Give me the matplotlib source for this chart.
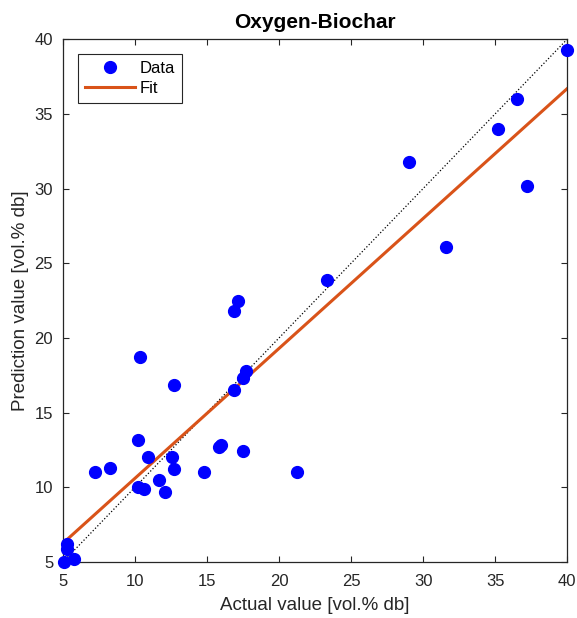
import numpy as np
import matplotlib.pyplot as plt

plt.rcParams['font.family'] = ['Liberation Sans', 'DejaVu Sans']

# measured vs predicted oxygen content (vol.% db)
actual = [40.0, 36.5, 35.2, 37.2, 29.0, 31.6, 23.3, 17.15, 16.9, 17.7,
          17.5, 16.9, 12.7, 10.35, 10.2, 7.2, 8.3, 10.9, 12.55, 12.7,
          14.8, 11.7, 10.2, 10.6, 12.1, 15.8, 16.0, 17.5, 5.3, 5.3,
          5.1, 5.8, 21.25]
predicted = [39.3, 36.0, 34.0, 30.2, 31.8, 26.1, 23.9, 22.5, 21.8, 17.8,
             17.3, 16.5, 16.85, 18.7, 13.2, 11.0, 11.3, 12.0, 12.0, 11.25,
             11.0, 10.5, 10.0, 9.9, 9.7, 12.7, 12.8, 12.4, 6.2, 5.9,
             5.0, 5.2, 11.0]

x_ticks = [5, 10, 15, 20, 25, 30, 35, 40]
y_ticks = [5, 10, 15, 20, 25, 30, 35, 40]

fig = plt.figure(figsize=(5.77, 6.18), dpi=100)
ax = fig.add_axes([0.109, 0.0906, 0.874, 0.846])

# linear fit of prediction on actual value
slope, intercept = np.polyfit(actual, predicted, 1)
xs = np.array([5, 40])

ax.plot(xs, xs, ':', color='black', lw=0.9, zorder=1)
ax.plot(actual, predicted, 'o', color='#0000FF', ms=8.5, label='Data',
        zorder=3, clip_on=False)
ax.plot(xs, slope * xs + intercept, '-', color='#D95319', lw=2.2,
        label='Fit', zorder=2)

ax.set_xlim(5, 40)
ax.set_ylim(5, 40)
ax.set_xticks(x_ticks)
ax.set_yticks(y_ticks)
ax.tick_params(direction='in', top=True, right=True, length=4,
               labelsize=12, colors='#262626', width=0.8, pad=7)
ax.tick_params(axis='x', pad=8.5)
for s in ax.spines.values():
    s.set_color('#262626')
    s.set_linewidth(0.9)

ax.set_xlabel('Actual value [vol.% db]', fontsize=13.5, color='#262626',
              labelpad=6)
ax.set_ylabel('Prediction value [vol.% db]', fontsize=13.5, color='#262626',
              labelpad=4)
ax.set_title('Oxygen-Biochar', fontsize=15, fontweight='bold', pad=8)

leg = ax.legend(loc='upper left', fontsize=12, fancybox=False,
                edgecolor='#262626', framealpha=1, handlelength=3.0,
                borderpad=0.4, labelspacing=0.3, handletextpad=0.3,
                borderaxespad=0.9)
leg.get_frame().set_linewidth(0.8)

fig.savefig('out.png', dpi=100, facecolor='white')
